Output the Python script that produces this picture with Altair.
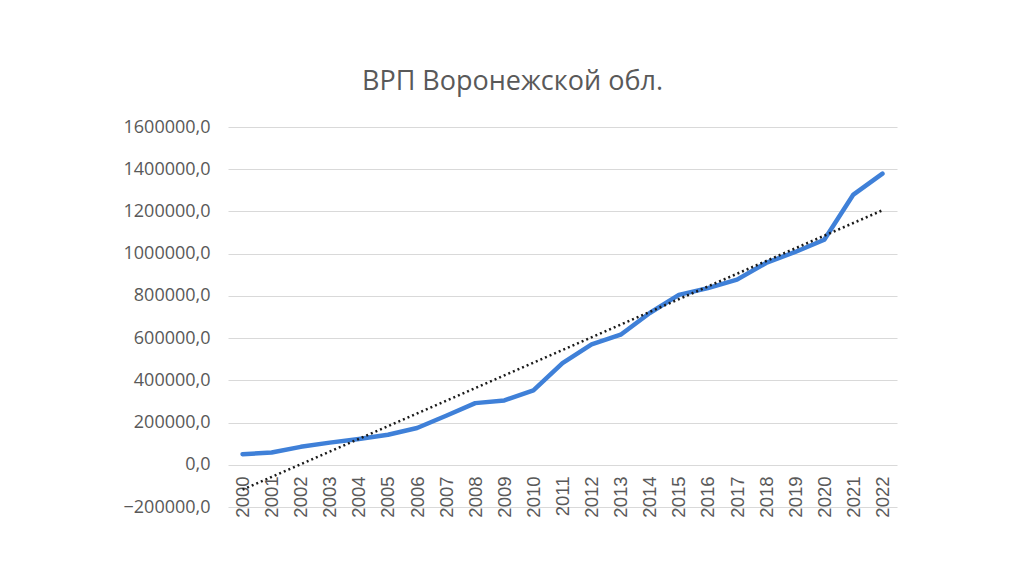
import altair as alt
import pandas as pd

years = list(range(2000, 2023))
grp = [50000, 58000, 85000, 105000, 122000, 142000, 174000, 232000, 292000, 305000,
       352000, 482000, 570000, 616000, 719000, 805000, 837000, 877000, 956000, 1008000,
       1066000, 1280000, 1379000]
y_ticks = list(range(-200000, 1600001, 200000))

df = pd.DataFrame({"year": years, "grp": grp})

xscale = alt.Scale(domain=[1999.5, 2022.5], nice=False, zero=False)
yscale = alt.Scale(domain=[-200000, 1600000], nice=False, zero=False)

x_axis = alt.Axis(values=years, format="d", labelAngle=-90, grid=False,
                  domain=False, ticks=False, offset=-42, labelPadding=11,
                  labelFont="Liberation Sans", labelFontSize=18.5,
                  labelColor="#595959", title=None, labelOverlap=False,
                  labelFlush=False, labelBound=False)
y_axis = alt.Axis(values=y_ticks, domain=False, ticks=False,
                  labelExpr="replace(format(datum.value, '.1f'), '.', ',')",
                  labelFont="Open Sans", labelFontSize=18, labelColor="#595959",
                  labelPadding=18, gridColor="#d9d9d9", gridWidth=1.2, title=None,
                  labelOverlap=False)

base = alt.Chart(df)

line = base.mark_line(color="#3f80d8", strokeWidth=4.5, strokeJoin="round", strokeCap="round").encode(
    x=alt.X("year:Q", scale=xscale, axis=x_axis),
    y=alt.Y("grp:Q", scale=yscale, axis=y_axis))

trend = base.transform_regression("year", "grp", method="linear", extent=[2000, 2022]).mark_line(
    color="#1a1a1a", strokeWidth=2.5, strokeDash=[2, 3]).encode(
    x=alt.X("year:Q", scale=xscale, axis=x_axis),
    y=alt.Y("grp:Q", scale=yscale, axis=y_axis))

chart = alt.layer(line, trend).properties(
    width=669, height=380,
    title=alt.TitleParams("ВРП Воронежской обл.", font="Open Sans", fontSize=27,
                          fontWeight="normal", color="#595959", dx=-50, offset=22),
    autosize=alt.AutoSizeParams(type="none"),
    padding={"left": 220, "top": 119, "right": 100, "bottom": 40},
).configure(background="white").configure_view(stroke=None)

chart.save("out.html", embed_options={"renderer": "svg", "actions": False})
